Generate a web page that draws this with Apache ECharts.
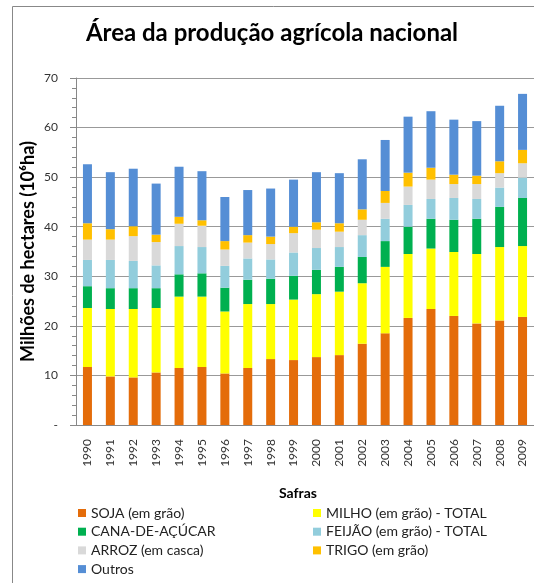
<!DOCTYPE html>
<html>
<head>
<meta charset="utf-8">
<title>Área da produção agrícola nacional</title>
<script src="https://cdn.jsdelivr.net/npm/echarts@6/dist/echarts.min.js"></script>
<style>
    html, body { margin: 0; padding: 0; background: #fff; }
    #chart_01 { width: 534px; height: 583px; }
</style>
</head>
<body>
<div id="chart_01"></div>
<script>
// dados (milhões de hectares)
var safras = ['1990', '1991', '1992', '1993', '1994', '1995', '1996', '1997', '1998', '1999',
              '2000', '2001', '2002', '2003', '2004', '2005', '2006', '2007', '2008', '2009'];

var soja   = [11.7, 9.8, 9.6, 10.6, 11.5, 11.7, 10.4, 11.5, 13.3, 13.1, 13.7, 14.1, 16.4, 18.5, 21.6, 23.4, 22.0, 20.5, 21.1, 21.8];
var milho  = [11.9, 13.6, 13.8, 13.0, 14.4, 14.2, 12.5, 12.9, 11.1, 12.2, 12.7, 12.8, 12.2, 13.4, 12.9, 12.2, 12.9, 14.0, 14.8, 14.3];
var cana   = [4.4, 4.2, 4.2, 4.0, 4.5, 4.7, 4.8, 4.9, 5.1, 4.8, 4.9, 5.0, 5.3, 5.2, 5.5, 6.0, 6.5, 7.1, 8.1, 9.7];
var feijao = [5.3, 5.7, 5.5, 4.6, 5.7, 5.3, 4.4, 4.3, 3.9, 4.7, 4.4, 4.0, 4.4, 4.5, 4.4, 4.0, 4.4, 4.0, 3.9, 4.1];
var arroz  = [4.1, 4.1, 5.0, 4.7, 4.5, 4.3, 3.3, 3.2, 3.1, 3.9, 3.7, 3.1, 3.1, 3.2, 3.7, 3.9, 2.8, 3.0, 2.9, 2.9];
var trigo  = [3.3, 2.1, 2.0, 1.5, 1.4, 1.1, 1.7, 1.5, 1.5, 1.3, 1.5, 1.7, 2.1, 2.4, 2.8, 2.4, 1.9, 1.7, 2.4, 2.7];
var outros = [11.9, 11.5, 11.6, 10.3, 10.1, 9.9, 8.9, 9.1, 9.7, 9.5, 10.1, 10.1, 10.1, 10.3, 11.3, 11.4, 11.1, 11.0, 11.2, 11.3];

var yTicks = [0, 10, 20, 30, 40, 50, 60, 70];

;(function(window) {

    initChartBar();

    function initChartBar() {

        var fonte = 'Lato, "Liberation Sans", sans-serif';
        var myChart_01 = echarts.init(document.getElementById('chart_01'));

        function serie(nome, dados, cor) {
            return {
                name: nome,
                type: 'bar',
                stack: 'area',
                barWidth: 9,
                data: dados,
                itemStyle: { color: cor }
            };
        }

        var legendaBase = {
            orient: 'vertical',
            top: 506,
            height: 120,
            padding: 0,
            itemWidth: 8,
            itemHeight: 8,
            itemGap: 4.7,
            icon: 'rect',
            textStyle: { fontFamily: fonte, fontSize: 14, color: '#222' }
        };

        var options = {
            animation: false,
            textStyle: { fontFamily: fonte },
            title: {
                text: 'Área da produção agrícola nacional',
                left: 267,
                textAlign: 'center',
                top: 16,
                textStyle: { fontFamily: fonte, fontSize: 24, fontWeight: 'bold', color: '#000' }
            },
            graphic: [{
                type: 'rect',
                shape: { x: 12.5, y: 6.5, width: 700, height: 700 },
                style: { fill: 'none', stroke: '#888', lineWidth: 1 },
                silent: true
            }],
            legend: [
                echarts.util.merge({ left: 78, data: ['SOJA (em grão)', 'CANA-DE-AÇÚCAR', 'ARROZ (em casca)', 'Outros'] }, legendaBase),
                echarts.util.merge({ left: 313, data: ['MILHO (em grão) - TOTAL', 'FEIJÃO (em grão) - TOTAL', 'TRIGO (em grão)'] }, legendaBase)
            ],
            grid: { left: 76, top: 78, width: 466, height: 347 },
            xAxis: {
                type: 'category',
                data: safras,
                name: 'Safras',
                nameLocation: 'middle',
                nameGap: 61,
                nameMoveOverlap: false,
                nameTextStyle: { fontFamily: fonte, fontSize: 14, fontWeight: 'bold', color: '#000', padding: [0, 14, 0, 0] },
                axisLine: { lineStyle: { color: '#888' } },
                axisTick: { length: 4, lineStyle: { color: '#888' } },
                axisLabel: { rotate: 90, margin: 14, fontSize: 12, color: '#333', fontFamily: fonte }
            },
            yAxis: {
                type: 'value',
                min: yTicks[0],
                max: yTicks[yTicks.length - 1],
                interval: 10,
                name: 'Milhões de hectares (10⁶ha)',
                nameLocation: 'middle',
                nameGap: 39,
                nameMoveOverlap: false,
                nameTextStyle: { fontFamily: fonte, fontSize: 18, fontWeight: 'bold', color: '#000' },
                axisLine: { show: true, lineStyle: { color: '#888' } },
                axisTick: { show: true, length: 6, lineStyle: { color: '#888' } },
                minorTick: { show: true, splitNumber: 5, length: 4, lineStyle: { color: '#888' } },
                splitLine: { lineStyle: { color: '#999', width: 1 } },
                axisLabel: {
                    fontSize: 12,
                    color: '#333',
                    fontFamily: fonte,
                    margin: 18,
                    formatter: function(v) { return v === 0 ? '-' : String(v); }
                }
            },
            series: [
                serie('SOJA (em grão)', soja, '#E46C0A'),
                serie('MILHO (em grão) - TOTAL', milho, '#FFFF00'),
                serie('CANA-DE-AÇÚCAR', cana, '#00B050'),
                serie('FEIJÃO (em grão) - TOTAL', feijao, '#92CDDC'),
                serie('ARROZ (em casca)', arroz, '#D9D9D9'),
                serie('TRIGO (em grão)', trigo, '#FFC000'),
                serie('Outros', outros, '#558ED5')
            ]
        };

        myChart_01.setOption(options);
    };

}(window));
</script>
</body>
</html>
